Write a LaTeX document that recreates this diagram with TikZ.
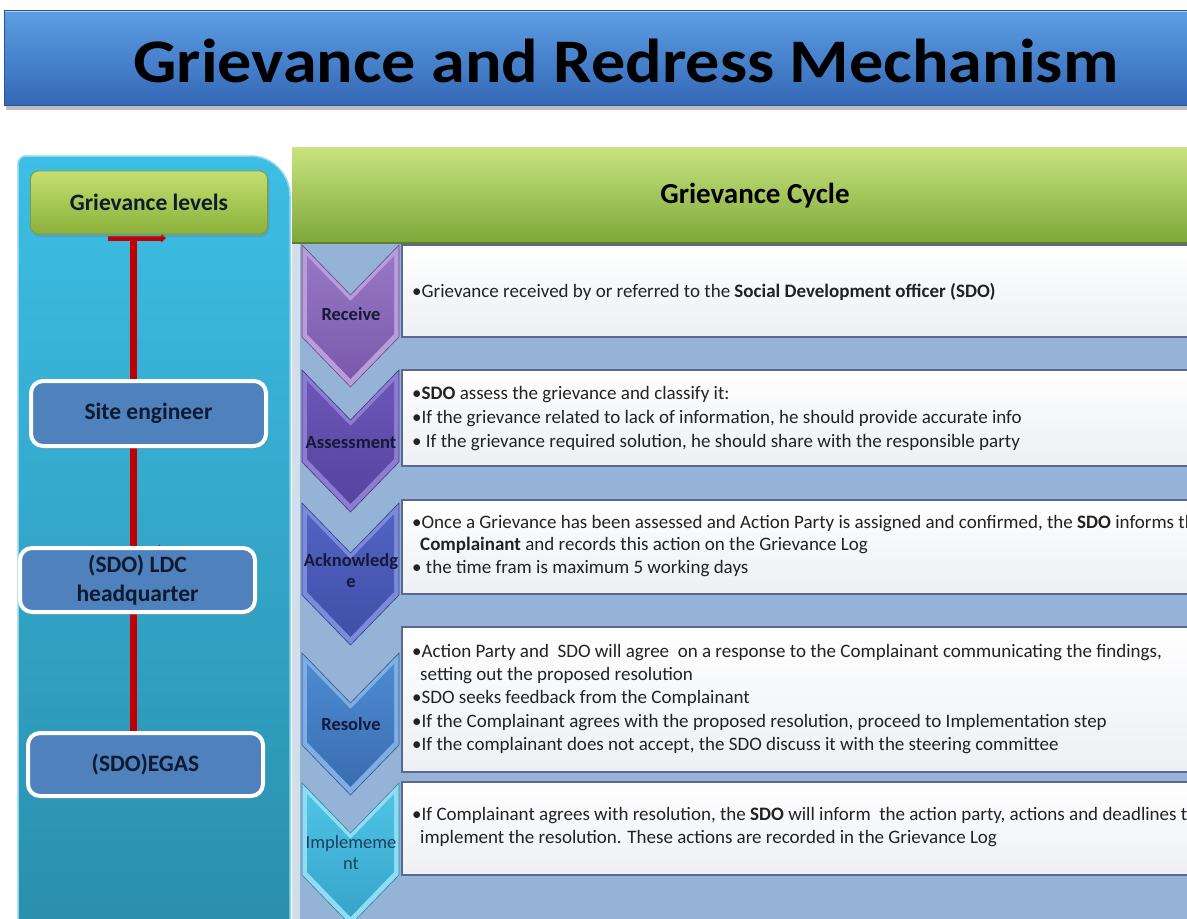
\documentclass[tikz,border=0pt]{standalone}
\usepackage{fontspec}
\setmainfont{Carlito}
\usetikzlibrary{shadows,arrows.meta}
\pgfdeclarelayer{bg}
\pgfdeclarelayer{mid}
\pgfsetlayers{bg,mid,main}
\definecolor{titletop}{HTML}{5C9EE3}
\definecolor{titlebot}{HTML}{3468B6}
\definecolor{paneltop}{HTML}{3DBEE5}
\definecolor{panelbot}{HTML}{2A8FAD}
\definecolor{paneledge}{HTML}{8ED6EE}
\definecolor{gltop}{HTML}{C4DF70}
\definecolor{glbot}{HTML}{8BB03A}
\definecolor{lvlblue}{HTML}{4F81BD}
\definecolor{navy}{HTML}{0E1A30}
\definecolor{hdrtop}{HTML}{C9E37E}
\definecolor{hdrbot}{HTML}{7DA83A}
\definecolor{hdredge}{HTML}{5E7E2C}
\definecolor{steel}{HTML}{95B3D7}
\definecolor{strip}{HTML}{D2DEEA}
\definecolor{boxedge}{HTML}{5B6790}
\definecolor{boxbot}{HTML}{EDEFF3}
\definecolor{txt}{HTML}{222222}
\definecolor{redline}{HTML}{C00000}
\definecolor{chtxt}{HTML}{141A36}
\definecolor{implt}{HTML}{1E3F5E}
\definecolor{aL}{HTML}{B89DD8}\definecolor{aT}{HTML}{9677C4}\definecolor{aB}{HTML}{7A59AC}
\definecolor{bL}{HTML}{8C7DD2}\definecolor{bT}{HTML}{6A56B6}\definecolor{bB}{HTML}{5644A0}
\definecolor{cL}{HTML}{7C8ADA}\definecolor{cT}{HTML}{5262C2}\definecolor{cB}{HTML}{404FA8}
\definecolor{dL}{HTML}{7FAEE3}\definecolor{dT}{HTML}{4D8AD0}\definecolor{dB}{HTML}{3A6DB3}
\definecolor{eL}{HTML}{90DCF2}\definecolor{eT}{HTML}{4EC4E4}\definecolor{eB}{HTML}{36A4CB}
\newcommand\chevshape[4]{%
  \path[fill=#2, draw=#4!80!black, line width=0.6pt]
    (302,#1) -- (350.5,#1+50) -- (399,#1) -- (399,#1+92) -- (350.5,#1+142) -- (302,#1+92) -- cycle;
  \path[top color=#3, bottom color=#4]
    (307,#1+11) -- (350.5,#1+56) -- (394,#1+11) -- (394,#1+89) -- (350.5,#1+134) -- (307,#1+89) -- cycle;
}
\tikzset{
  body/.style={anchor=base west, inner sep=0pt, font=\fontsize{19}{23}\selectfont, text=txt},
  chevlbl/.style={font=\bfseries\fontsize{18.5}{21}\selectfont, text=chtxt, align=center, inner sep=0pt},
  lvlbox/.style={draw=white, line width=4pt, fill=lvlblue, rounded corners=12pt,
    minimum width=235pt, font=\bfseries\fontsize{23.5}{29}\selectfont, text=navy, align=center,
    drop shadow={shadow xshift=2pt, shadow yshift=-3pt, opacity=0.35}},
  textbox/.style={draw=boxedge, line width=1.3pt, top color=white, bottom color=boxbot},
  redconn/.style={draw=redline, line width=7pt},
}
\begin{document}
\begin{tikzpicture}[x=1pt,y=-1pt]
\useasboundingbox (0,0) rectangle (1187,919);
\begin{pgfonlayer}{bg}
\fill[white] (0,0) rectangle (1187,919);
% left panel
\path[top color=paneltop, bottom color=panelbot, draw=paneledge, line width=1.5pt]
  (18,930) -- (18,164) arc[start angle=180, end angle=270, radius=8] -- (250,156)
  arc[start angle=270, end angle=360, radius=40] -- (290,930) -- cycle;
% right panel
\path[top color=hdrtop, bottom color=hdrbot] (292,147) rectangle (1192,243);
\draw[hdredge, line width=1.5pt] (292,243) -- (1192,243);
\fill[strip] (292,244) rectangle (300,925);
\fill[steel] (300,244) rectangle (1192,925);
\end{pgfonlayer}
% title bar
\fill[black, opacity=0.25] (6,16) rectangle (1190,110);
\path[top color=titletop, bottom color=titlebot, draw=titlebot!80!black, line width=0.8pt] (4,10) rectangle (1192,105);
\draw[white, opacity=0.5, line width=1pt] (5,11.5) -- (1192,11.5);
\node[anchor=base, inner sep=0pt, font=\bfseries\fontsize{62}{70}\selectfont, text=black] (title) at (626,82) {\scalebox{1.1}[1]{Grievance and Redress Mechanism}};
\node[font=\bfseries\fontsize{29}{34}\selectfont, text=black] (cycle) at (755,196) {Grievance Cycle};
% levels
\node[draw=glbot!90!black, line width=0.8pt, top color=gltop, bottom color=glbot, rounded corners=8pt,
  minimum width=237pt, minimum height=63pt, font=\bfseries\fontsize{23.5}{29}\selectfont, text=navy,
  drop shadow={shadow xshift=2pt, shadow yshift=-3pt, opacity=0.35}] (gl) at (149,202.5) {Grievance levels};
\node[lvlbox, minimum height=65pt] (se) at (148.5,413.5) {Site engineer};
\node[lvlbox, minimum height=64pt] (ldc) at (137.5,580) {(SDO) LDC\\headquarter};
\node[lvlbox, minimum height=63pt] (egas) at (145.5,764.5) {(SDO)EGAS};
\coordinate (ltop) at (133,236);
\begin{pgfonlayer}{mid}
\draw[redconn] (ltop) -- (ltop |- egas.north);
\draw[redline, line width=5pt, -{Triangle[length=5pt, width=9pt]}] (108,238) -- (166,238);
\draw[redline, line width=5pt, -{Triangle[length=5pt, width=9pt]}] (108,549) -- (164,549);
\end{pgfonlayer}
% text boxes
\path[textbox] (402,245) rectangle (1195,337);
\path[textbox] (402,370) rectangle (1195,466);
\path[textbox] (402,500) rectangle (1195,594);
\path[textbox] (402,627) rectangle (1195,772);
\path[textbox] (402,782) rectangle (1195,875);
% chevrons
\chevshape{245}{aL}{aT}{aB}
\chevshape{370}{bL}{bT}{bB}
\chevshape{503}{cL}{cT}{cB}
\chevshape{653}{dL}{dT}{dB}
\chevshape{783}{eL}{eT}{eB}
\node[chevlbl] (c1) at (351,314) {Receive};
\node[chevlbl] (c2) at (351,443) {Assessment};
\node[chevlbl] (c3) at (351,571) {Acknowledg\\e};
\node[chevlbl] (c4) at (351,724) {Resolve};
\node[chevlbl, font=\fontsize{18.5}{21}\selectfont, text=implt] (c5) at (351,853) {Implememe\\nt};
% texts
\node[body] (t1) at (412,297) {•Grievance received by or referred to the \textbf{Social Development officer (SDO)}};
\node[body] (t2a) at (412,399) {•\textbf{SDO} assess the grievance and classify it:};
\node[body] (t2b) at (412,423) {•If the grievance related to lack of information, he should provide accurate info};
\node[body] (t2c) at (412,447) {• If the grievance required solution, he should share with the responsible party};
\node[body] (t3a) at (412,528) {•Once a Grievance has been assessed and Action Party is assigned and confirmed, the \textbf{SDO} informs the};
\node[body] (t3b) at (420,550) {\textbf{Complainant} and records this action on the Grievance Log};
\node[body] (t3c) at (412,573) {• the time fram is maximum 5 working days};
\node[body] (t4a) at (412,657) {•Action Party and \ SDO will agree \ on a response to the Complainant communicating the findings,};
\node[body] (t4b) at (420,680) {setting out the proposed resolution};
\node[body] (t4c) at (412,703) {•SDO seeks feedback from the Complainant};
\node[body] (t4d) at (412,727) {•If the Complainant agrees with the proposed resolution, proceed to Implementation step};
\node[body] (t4e) at (412,750) {•If the complainant does not accept, the SDO discuss it with the steering committee};
\node[body] (t5a) at (412,820) {•If Complainant agrees with resolution, the \textbf{SDO} will inform \ the action party, actions and deadlines to};
\node[body] (t5b) at (420,843) {implement the resolution. These actions are recorded in the Grievance Log};
\end{tikzpicture}
\end{document}
